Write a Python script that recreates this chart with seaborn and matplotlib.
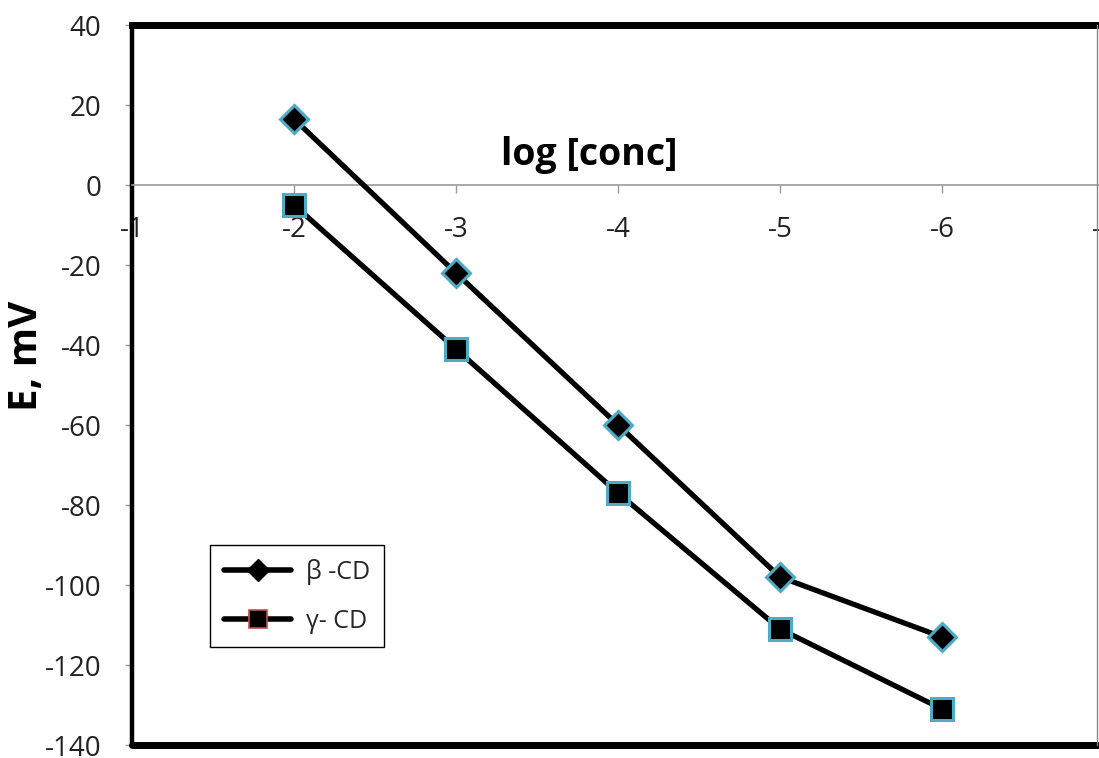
import matplotlib
matplotlib.use('Agg')
import matplotlib.pyplot as plt
import seaborn as sns
import pandas as pd
from matplotlib.lines import Line2D

# ---- data ----
log_conc = [-2, -3, -4, -5, -6]
beta_cd = [16.5, -22, -60, -98, -113]
gamma_cd = [-5, -41, -77, -111, -131]
x_ticks = [-1, -2, -3, -4, -5, -6, -7]
y_ticks = [-140, -120, -100, -80, -60, -40, -20, 0, 20, 40]
series_labels = ["β -CD", "γ- CD"]

sns.set_theme(style='white')
plt.rcParams['font.family'] = ['Open Sans', 'DejaVu Sans']

W, H = 1099, 758
fig = plt.figure(figsize=(W / 100, H / 100), dpi=100)
left, right, top, bottom = 132, 1104, 25, 745
ax = fig.add_axes([left / W, 1 - bottom / H, (right - left) / W, (bottom - top) / H])

edge = '#4bacc6'
sns.lineplot(x=log_conc, y=beta_cd, ax=ax, color='black', linewidth=3.8,
             marker='D', markersize=14, markerfacecolor='black',
             markeredgecolor=edge, markeredgewidth=2.2, sort=False, zorder=3)
sns.lineplot(x=log_conc, y=gamma_cd, ax=ax, color='black', linewidth=3.8,
             marker='s', markersize=16, markerfacecolor='black',
             markeredgecolor=edge, markeredgewidth=2.2, sort=False, zorder=3)

ax.set_xlim(-1, -7)
ax.set_ylim(-140, 40)
ax.set_xticks(x_ticks)
ax.set_xticklabels([str(v) for v in x_ticks])
ax.set_yticks(y_ticks)
ax.set_yticklabels([str(v) for v in y_ticks])

# spines
ax.spines['top'].set_color('black')
ax.spines['top'].set_linewidth(5)
ax.spines['left'].set_color('black')
ax.spines['left'].set_linewidth(3.2)
ax.spines['right'].set_visible(False)
ax.spines['bottom'].set_position(('data', 0))
ax.spines['bottom'].set_color('#999999')
ax.spines['bottom'].set_linewidth(1.2)
ax.axhline(-140, color='black', linewidth=5, clip_on=False, zorder=5)

ax.tick_params(axis='y', direction='out', length=5, width=1, color='#999999',
               labelsize=20, labelcolor='#222222', pad=17, left=True)
ax.tick_params(axis='x', direction='out', length=6, width=1, color='#999999',
               labelsize=20, labelcolor='#222222', pad=16, bottom=True)
ax.set_xlabel('')
ax.set_ylabel('')

# right thin border
fig.add_artist(Line2D([1097 / W, 1097 / W], [1 - bottom / H, 1 - top / H],
                      color='#888888', linewidth=1))

fig.text(589 / W, 1 - 155 / H, 'log [conc]', fontsize=27, fontweight='bold',
         ha='center', va='center', color='black')
fig.text(27 / W, 1 - 356 / H, 'E, mV', fontsize=29, fontweight='bold',
         ha='center', va='center', rotation=90, color='black')

handles = [
    Line2D([0], [0], color='black', lw=4, marker='D', markersize=11,
           markerfacecolor='black', markeredgecolor='black'),
    Line2D([0], [0], color='black', lw=4, marker='s', markersize=13,
           markerfacecolor='black', markeredgecolor='#c0504d', markeredgewidth=1.2),
]
leg = ax.legend(handles, series_labels, loc='upper left',
                bbox_to_anchor=(210 / W, 1 - 545 / H), bbox_transform=fig.transFigure,
                borderaxespad=0, fontsize=18, handlelength=2.7, frameon=True,
                fancybox=False, edgecolor='black', framealpha=1,
                borderpad=0.55, labelspacing=0.95, handletextpad=0.6)
leg.get_frame().set_linewidth(1)

fig.savefig('out.png', dpi=100)
